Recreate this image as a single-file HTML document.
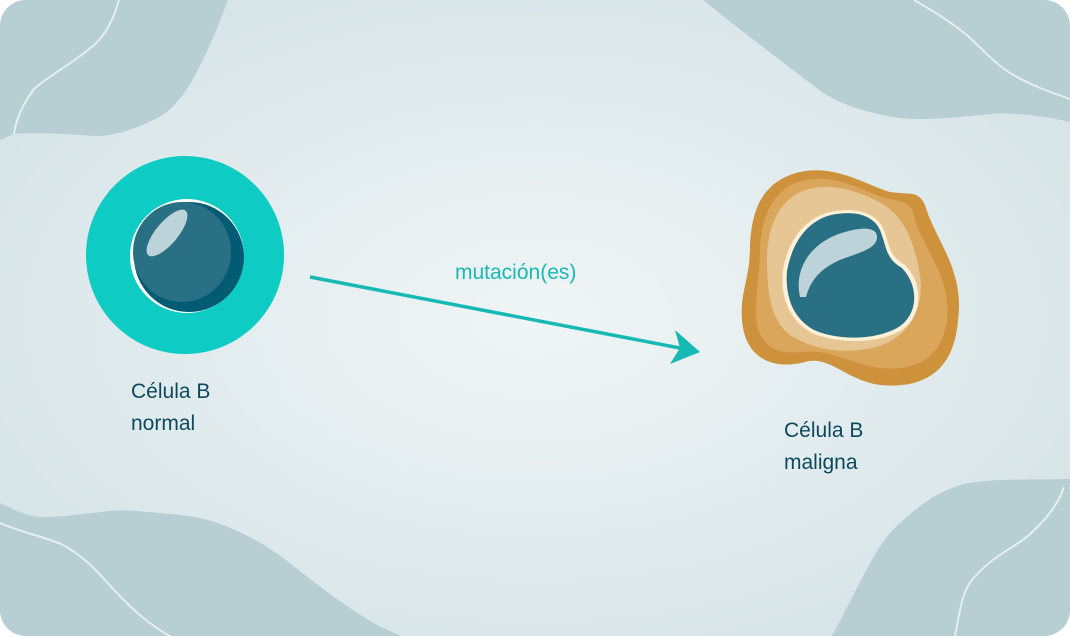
<!DOCTYPE html>
<html><head><meta charset="utf-8"><style>
html,body{margin:0;padding:0;background:#fff}
svg{display:block}
</style></head><body>
<svg width="1070" height="636" viewBox="0 0 1070 636" xmlns="http://www.w3.org/2000/svg">
<defs>
<radialGradient id="bg" cx="50%" cy="50%" r="60%">
<stop offset="0" stop-color="#f0f5f6"/><stop offset="1" stop-color="#d6e4e7"/>
</radialGradient>
<clipPath id="cl"><rect x="0" y="0" width="1070" height="636" rx="26"/></clipPath>
</defs>
<g clip-path="url(#cl)">
<rect width="1070" height="636" fill="url(#bg)"/>
<!-- corner blobs -->
<path d="M0,0 L228,0 C205,60 185,105 157,118 C130,132 110,136 95,136 C60,134 35,132 14,134 L0,140 Z" fill="#b7ced3"/>
<path d="M119,0 C112,25 102,40 89,49 C70,65 50,75 34,89 C22,105 16,120 14,134" fill="none" stroke="#e6eef0" stroke-width="2"/>
<path d="M703,0 L1070,0 L1070,122 C1040,115 1010,112 989,114 C950,118 915,122 887,116 C860,110 840,105 818,89 C780,60 740,30 703,0 Z" fill="#b7ced3"/>
<path d="M914,0 C940,15 955,25 969,37 C985,52 995,63 1010,73 C1030,85 1050,92 1070,99" fill="none" stroke="#e6eef0" stroke-width="2"/>
<path d="M0,503 C15,510 28,517 41,517 C80,517 110,508 136,511 C170,514 195,515 218,523 C250,535 270,548 286,560 C330,595 370,625 402,636 L0,636 Z" fill="#b7ced3"/>
<path d="M0,523 C20,532 45,537 61,544 C85,556 100,575 116,592 C135,612 150,625 170,636" fill="none" stroke="#e6eef0" stroke-width="2"/>
<path d="M832,636 C860,585 875,545 900,523 C925,500 945,488 969,483 C1000,478 1040,480 1070,479 L1070,636 Z" fill="#b7ced3"/>
<path d="M955,636 C960,610 962,595 969,584 C985,562 1005,552 1023,540 C1045,522 1058,505 1064,487" fill="none" stroke="#e6eef0" stroke-width="2"/>
<!-- normal cell -->
<circle cx="185" cy="255" r="99" fill="#0ecbc4"/>
<circle cx="187" cy="256" r="57" fill="#ffffff"/>
<circle cx="189" cy="257" r="55" fill="#005b73"/>
<ellipse cx="182" cy="252" rx="49" ry="50" fill="#2a7085"/>
<ellipse cx="167" cy="233" rx="11" ry="29" fill="#bcd3da" transform="rotate(40 167 233)"/>
<!-- arrow -->
<line x1="310" y1="277" x2="685" y2="349" stroke="#16b9b3" stroke-width="3.5"/>
<path d="M700,352 L670,364 L680,348 L675,330 Z" fill="#16b9b3"/>
<text x="455" y="279" font-family="Liberation Sans, sans-serif" font-size="21" fill="#18b9b4">mutación(es)</text>
<!-- malignant cell -->
<path d="M790,175 C830,160 865,185 890,192 C910,195 918,190 925,205 C935,240 965,270 958,320 C955,360 935,390 880,385 C845,380 830,355 805,362 C775,370 745,360 742,320 C740,290 750,280 750,245 C752,205 765,185 790,175 Z" fill="#cf923c"/>
<path d="M795,183 C830,170 860,190 885,198 C905,202 912,202 915,220 C925,250 952,280 947,320 C942,355 920,372 880,368 C850,364 830,348 800,352 C772,356 756,340 756,315 C756,285 760,275 760,248 C762,212 775,192 795,183 Z" fill="#d9a65c"/>
<path d="M800,192 C830,180 862,192 884,205 C905,218 915,245 920,275 C925,310 908,340 872,348 C840,355 810,348 790,335 C770,320 767,290 767,260 C767,225 780,202 800,192 Z" fill="#e6c695"/>
<path d="M830,212 C855,207 875,212 883,228 C890,245 888,255 905,265 C925,285 922,318 900,331 C875,345 835,343 812,333 C788,320 780,295 783,270 C788,240 805,218 830,212 Z" fill="#fff0d8"/>
<path d="M831,215 C855,210 873,215 880,230 C887,247 885,258 902,268 C920,287 918,316 897,328 C873,341 836,340 814,330 C792,318 785,295 787,271 C792,243 807,221 831,215 Z" fill="#2a7085"/>
<path d="M800,297 C793,265 815,240 845,232 C865,226 878,228 877,238 C876,248 862,252 845,258 C818,268 810,283 806,297 Z" fill="#bcd3da"/>
<!-- labels -->
<g font-family="Liberation Sans, sans-serif" font-size="21" fill="#0b4a5e">
<text x="131" y="398">Célula B</text>
<text x="131" y="430">normal</text>
<text x="784" y="437">Célula B</text>
<text x="784" y="469">maligna</text>
</g>
</g>
</svg>
</body></html>
